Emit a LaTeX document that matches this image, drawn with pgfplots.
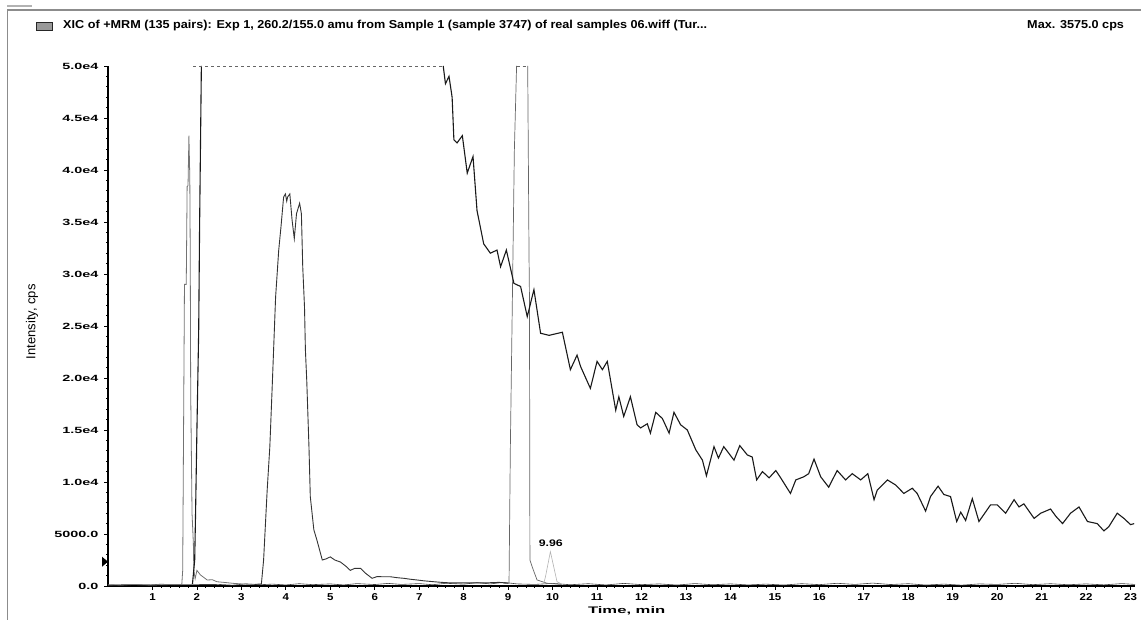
\documentclass[border=0pt]{standalone}
\usepackage{fontspec}
\setmainfont{Liberation Sans}
\usepackage{pgfplots}
\pgfplotsset{compat=1.18}

\pgfplotstableread{
t I
1.90 200
1.95 2500
1.97 7100
2.00 15000
2.04 24600
2.06 34500
2.10 50000
}\darkrise

\pgfplotstableread{
t I
7.54 50000
7.59 48300
7.67 49000
7.74 47000
7.78 42900
7.85 42600
7.97 43300
8.08 39700
8.21 41300
8.30 36100
8.45 32900
8.60 32000
8.75 32300
8.83 30700
8.96 32300
9.13 29100
9.28 28800
9.43 25900
9.58 28500
9.73 24300
9.92 24100
10.22 24400
10.40 20800
10.55 22200
10.63 21100
10.85 19000
11.00 21600
11.12 20800
11.23 21600
11.42 16900
11.49 18200
11.60 16300
11.75 18200
11.90 15500
11.98 15200
12.13 15600
12.20 14700
12.32 16700
12.47 16100
12.62 14700
12.73 16700
12.88 15500
13.03 15000
13.22 13100
13.37 12100
13.46 10600
13.63 13400
13.73 12300
13.85 13400
14.08 12100
14.21 13500
14.38 12600
14.49 12400
14.59 10200
14.72 11000
14.87 10400
15.02 11100
15.13 10400
15.35 8900
15.47 10200
15.65 10500
15.76 10800
15.88 12200
16.03 10500
16.21 9500
16.40 11100
16.59 10200
16.74 10800
16.93 10200
17.09 10800
17.23 8300
17.30 9200
17.53 10200
17.72 9700
17.90 8900
18.09 9400
18.20 8900
18.39 7200
18.50 8600
18.67 9600
18.80 8800
18.95 8600
19.09 6200
19.18 7100
19.29 6300
19.44 8400
19.59 6200
19.85 7800
20.00 7800
20.19 7000
20.38 8300
20.49 7600
20.60 7900
20.83 6500
20.98 7000
21.20 7400
21.32 6700
21.47 6000
21.65 7000
21.84 7600
22.03 6200
22.25 6000
22.40 5300
22.51 5700
22.70 7000
22.85 6500
23.00 5900
23.08 6000
}\darkdecay

\pgfplotstableread{
t I
3.30 150
3.45 200
3.50 2500
3.58 9200
3.64 13400
3.69 18800
3.77 27800
3.84 32300
3.89 34500
3.95 37400
3.99 37700
4.02 37000
4.04 37400
4.09 37700
4.14 35200
4.19 33400
4.24 35800
4.31 36800
4.35 35800
4.38 30700
4.42 26800
4.44 22700
4.47 19800
4.52 13400
4.55 8600
4.63 5400
4.70 4400
4.82 2500
4.90 2600
5.00 2800
5.10 2500
5.23 2300
5.35 1900
5.45 1500
5.55 1700
5.68 1700
5.80 1200
5.94 740
6.05 900
6.20 890
6.35 890
6.50 800
6.65 740
6.80 650
6.95 580
7.10 500
7.33 410
7.50 350
7.70 300
8.00 300
8.50 300
8.80 350
9.00 250
}\peakfour

\pgfplotstableread{
t I
0.00 100
0.50 150
1.00 100
1.50 150
1.66 150
1.68 1500
1.72 29000
1.76 29000
1.78 38400
1.80 38500
1.82 43300
1.84 39300
1.85 31800
1.86 18700
1.89 7000
1.92 4100
1.93 1500
1.96 700
2.00 1500
2.08 1060
2.23 580
2.35 600
2.45 410
2.60 350
2.83 250
3.00 200
3.30 150
}\peakone

\pgfplotstableread{
t I
8.90 250
9.02 260
9.05 13400
9.09 25900
9.14 41900
9.19 50000
}\ninerise

\pgfplotstableread{
t I
9.44 50000
9.47 31700
9.48 27500
9.49 2500
9.54 1850
9.65 580
9.88 260
10.20 150
}\ninefall

\pgfplotstableread{
t I
9.80 200
9.84 890
9.95 3300
10.10 410
10.20 200
}\peaknine

\pgfplotstableread{
t I
0.0 120
0.3 60
0.6 150
0.9 90
1.2 180
1.5 100
1.7 130
2.5 150
2.8 80
3.1 200
3.4 120
3.7 180
4.0 100
4.3 220
4.6 130
5.0 200
5.3 100
5.6 230
6.0 140
6.3 250
6.6 150
7.0 230
7.3 120
7.6 260
8.0 180
8.3 320
8.6 200
8.9 350
9.2 200
9.6 150
10.0 250
10.4 120
10.8 220
11.2 100
11.6 250
12.0 130
12.4 200
12.8 90
13.2 230
13.6 120
14.0 200
14.4 100
14.8 180
15.2 90
15.6 220
16.0 130
16.4 260
16.8 150
17.2 280
17.6 140
18.0 220
18.4 90
18.8 180
19.2 80
19.6 200
20.0 150
20.4 260
20.8 130
21.2 220
21.6 120
22.0 200
22.4 110
22.8 230
23.1 150
}\baseline

\begin{document}
\begin{tikzpicture}[x=1pt,y=1pt]
\path[use as bounding box] (0,0) rectangle (1141,620);
\draw[black!45, line width=1.5pt] (7.5,0) -- (7.5,610) -- (1141,610);
\fill[black!30] (7,613) rectangle (32,615);
\filldraw[fill=black!40, draw=black!85, line width=0.8pt] (36,590) rectangle (52,598);
\node[anchor=west, inner sep=0pt, xscale=1.1, font=\bfseries\fontsize{11.5}{13}\selectfont] at (63,594) {XIC of +MRM (135 pairs): Exp 1, 260.2/155.0 amu from Sample 1 (sample 3747) of real samples 06.wiff (Tur...};
\node[anchor=west, inner sep=0pt, xscale=1.1, font=\bfseries\fontsize{11.5}{13}\selectfont] at (1027,594) {Max. 3575.0 cps};
\begin{axis}[
  at={(108pt,34pt)}, anchor=south west,
  scale only axis, width=1027pt, height=520pt,
  xmin=0, xmax=23.1, ymin=0, ymax=50000,
  clip=false,
  axis x line*=bottom, axis y line*=left,
  axis line style={line width=1.2pt, -},
  xtick={1,2,...,23}, minor x tick num=4,
  ytick={0,5000,10000,15000,20000,25000,30000,35000,40000,45000,50000},
  yticklabels={0.0,5000.0,1.0e4,1.5e4,2.0e4,2.5e4,3.0e4,3.5e4,4.0e4,4.5e4,5.0e4},
  minor y tick num=4,
  scaled y ticks=false,
  /pgf/number format/assume math mode=true,
  tick align=outside, major tick length=4pt, minor tick length=2pt,
  tick style={black, line width=0.8pt},
  xticklabel style={font=\bfseries\fontsize{10}{12}\selectfont, xscale=1.15},
  yticklabel style={font=\bfseries\fontsize{9}{11}\selectfont, xscale=1.6, anchor=east},
  xlabel={Time, min},
  xlabel style={at={(axis description cs:0.505,-0.048)}, anchor=center, font=\bfseries\fontsize{9.5}{11}\selectfont, xscale=1.75},
  ylabel={Intensity, cps},
  ylabel style={at={(axis description cs:-0.074,0.508)}, anchor=center, font=\fontsize{13}{15}\selectfont},
]
\addplot[black!75, line width=0.6pt] table[x=t,y=I] {\baseline};
\addplot[black!55, line width=0.8pt] table[x=t,y=I] {\peakone};
\addplot[black!80, line width=0.9pt] table[x=t,y=I] {\peakfour};
\addplot[black!60, line width=0.7pt] table[x=t,y=I] {\ninerise};
\addplot[black!60, line width=0.7pt] table[x=t,y=I] {\ninefall};
\addplot[black!60, line width=0.6pt, dashed] coordinates {(9.19,50000) (9.44,50000)};
\addplot[black!30, line width=0.6pt] table[x=t,y=I] {\peaknine};
\addplot[black!90, line width=1.1pt] table[x=t,y=I] {\darkrise};
\addplot[black!90, line width=1.1pt] table[x=t,y=I] {\darkdecay};
\addplot[black!60, line width=0.7pt, dash pattern=on 3pt off 3pt] coordinates {(1.92,50000) (7.54,50000)};
\node[anchor=south, font=\bfseries\fontsize{9.5}{11}\selectfont, xscale=1.3, inner sep=1pt] at (axis cs:9.96,3700) {9.96};
\fill[black] (axis cs:0,2335) ++(-6pt,-5pt) -- ++(6pt,5pt) -- ++(-6pt,5pt) -- cycle;
\end{axis}
\end{tikzpicture}
\end{document}
